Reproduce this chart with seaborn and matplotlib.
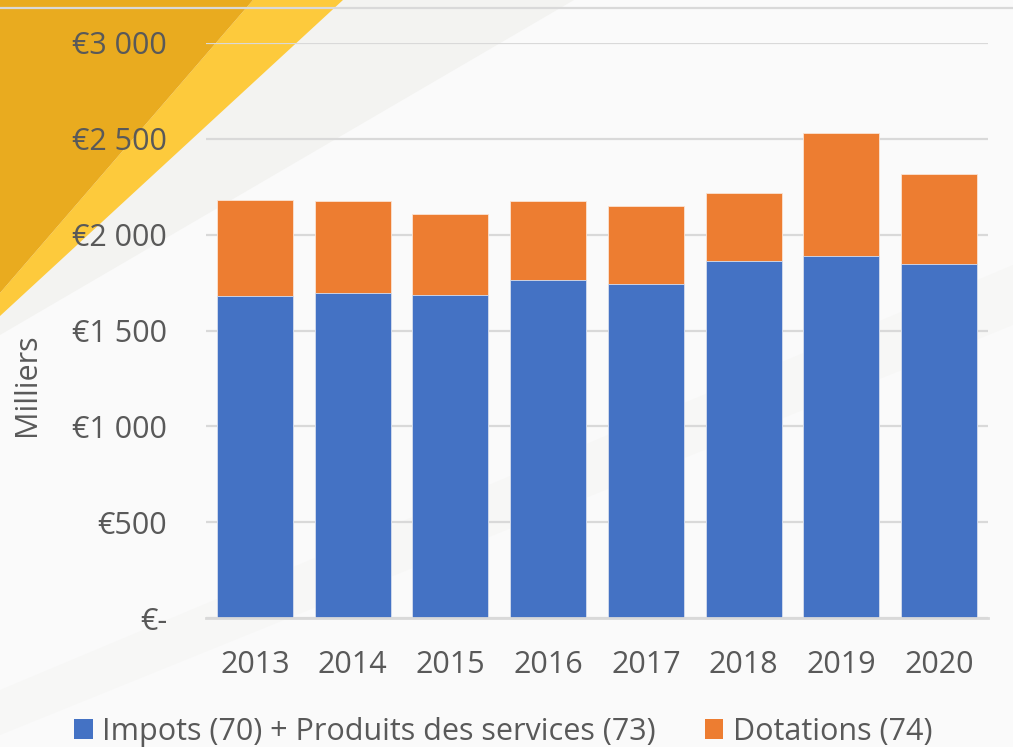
import matplotlib
matplotlib.use("Agg")
import matplotlib.pyplot as plt
from matplotlib.patches import Patch, Polygon
from matplotlib.lines import Line2D
import pandas as pd
import seaborn as sns

# values (thousands of euros)
years = ["2013", "2014", "2015", "2016", "2017", "2018", "2019", "2020"]
impots_services = [1680, 1694, 1687, 1765, 1745, 1861, 1891, 1847]
dotations = [501, 480, 421, 409, 406, 357, 641, 468]
y_ticks = [0, 500, 1000, 1500, 2000, 2500, 3000]
y_tick_labels = ["€-", "€500", "€1 000", "€1 500", "€2 000", "€2 500", "€3 000"]
series_names = ["Impots (70) + Produits des services (73)", "Dotations (74)"]

BLUE = "#4472C4"
ORANGE = "#ED7D31"
TEXT = "#595959"
GRID = "#D9D9D9"

W, H = 1013, 747

df = pd.DataFrame({"year": years, "impots": impots_services, "dotations": dotations})
df["total"] = df["impots"] + df["dotations"]

sns.set_theme(style="white")
plt.rcParams["font.family"] = ["Open Sans", "DejaVu Sans"]

fig = plt.figure(figsize=(W / 100, H / 100), dpi=100)
fig.patch.set_facecolor("#FAFAFA")


def px(points):
    # pixel coords (origin top-left) -> figure fraction
    return [(x / W, 1 - y / H) for x, y in points]


# decorative background shapes
fig.add_artist(Polygon(px([(0, 690), (0, 735), (1013, 325), (1013, 265)]),
                       closed=True, transform=fig.transFigure, color="#F7F7F6", zorder=-5, lw=0))
fig.add_artist(Polygon(px([(343, 0), (574, 0), (0, 335), (0, 315)]),
                       closed=True, transform=fig.transFigure, color="#F3F3F1", zorder=-4, lw=0))
fig.add_artist(Polygon(px([(253, 0), (343, 0), (0, 316), (0, 293)]),
                       closed=True, transform=fig.transFigure, color="#FDCA3C", zorder=-3, lw=0))
fig.add_artist(Polygon(px([(0, 0), (253, 0), (0, 293)]),
                       closed=True, transform=fig.transFigure, color="#E9AB1F", zorder=-2, lw=0))
fig.add_artist(Line2D([0, 1], [1 - 8 / H, 1 - 8 / H], transform=fig.transFigure,
                      color=GRID, lw=1.6, zorder=-1))

ax = fig.add_axes([206 / W, 1 - 618 / H, 782 / W, 575 / H])
ax.set_facecolor("none")

sns.barplot(data=df, x="year", y="total", color=ORANGE, width=0.78, saturation=1,
            edgecolor="#FBE3D3", linewidth=0.6, ax=ax, zorder=3)
sns.barplot(data=df, x="year", y="impots", color=BLUE, width=0.78, saturation=1,
            edgecolor="#D6E0F2", linewidth=0.6, ax=ax, zorder=4)

ax.set_ylim(0, 3000)
ax.set_xlim(-0.5, len(years) - 0.5)
ax.set_yticks(y_ticks)
ax.set_yticklabels(y_tick_labels)
ax.yaxis.grid(True, color=GRID, lw=1.6, zorder=0)
ax.set_axisbelow(True)
for s in ["top", "right", "left"]:
    ax.spines[s].set_visible(False)
ax.spines["bottom"].set_color(GRID)
ax.spines["bottom"].set_linewidth(2)
ax.spines["bottom"].set_zorder(5)
ax.tick_params(axis="both", length=0, labelsize=22, labelcolor=TEXT)
ax.tick_params(axis="y", pad=28)
ax.tick_params(axis="x", pad=23)
ax.set_xlabel("")
ax.set_ylabel("")

fig.text(27 / W, 1 - 385 / H, "Milliers", rotation=90, ha="center", va="center",
         fontsize=22, color=TEXT)

handles = [Patch(facecolor=BLUE, edgecolor="none"), Patch(facecolor=ORANGE, edgecolor="none")]
fig.legend(handles, series_names, loc="center", bbox_to_anchor=(503 / W, 1 - 732 / H),
           ncol=2, frameon=False, fontsize=22, labelcolor=TEXT,
           handlelength=0.62, handleheight=0.62, handletextpad=0.3, columnspacing=1.6,
           borderaxespad=0)

fig.savefig("out.png", dpi=100, facecolor=fig.get_facecolor())
